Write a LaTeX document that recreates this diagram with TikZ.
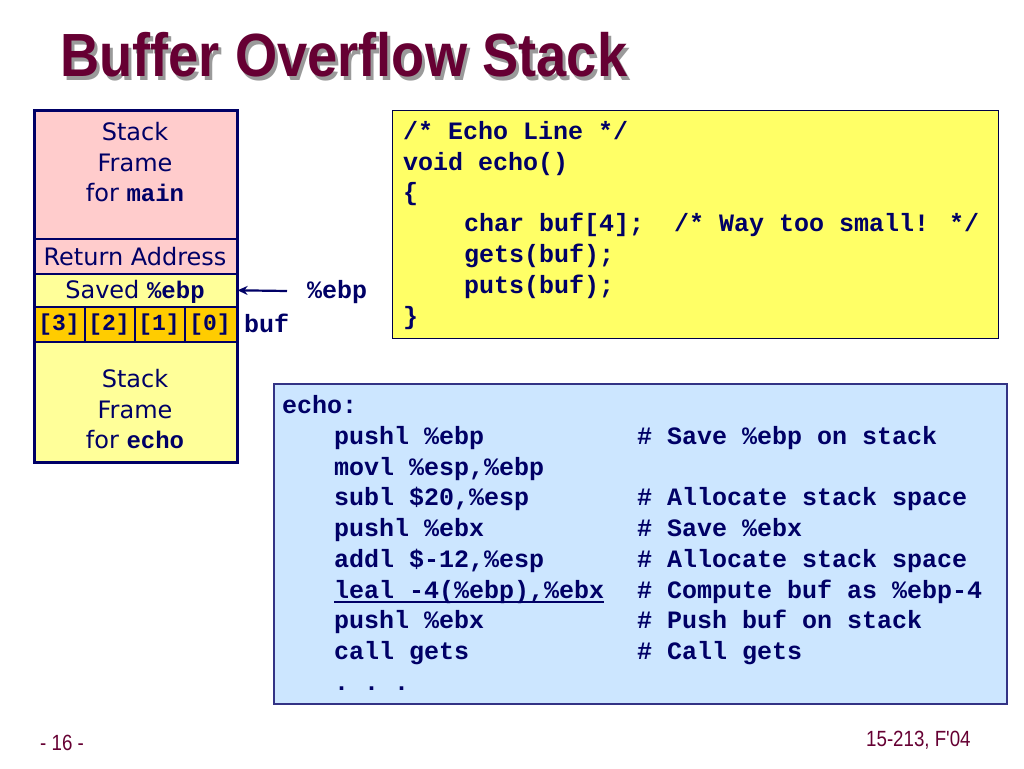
\documentclass[tikz,border=0pt]{standalone}
\usepackage{fontspec}
\setmainfont{DejaVu Sans}
\newfontfamily\monof{Liberation Mono}
\newfontfamily\titlef[FakeStretch=0.89]{Liberation Sans}
\newfontfamily\footf[FakeStretch=0.85]{Liberation Sans}
\usetikzlibrary{arrows.meta}
\definecolor{inknavy}{HTML}{000066}
\definecolor{titlered}{HTML}{660033}
\definecolor{shadowgray}{HTML}{9A9A9A}
\definecolor{pinkfill}{HTML}{FFCCCC}
\definecolor{yellowfill}{HTML}{FFFF99}
\definecolor{bufFill}{HTML}{FFCC00}
\definecolor{codeyellow}{HTML}{FFFF66}
\definecolor{asmblue}{HTML}{CCE6FF}
\tikzset{
  x=1pt, y=-1pt,
  cell/.style={draw=inknavy, line width=1.6pt, anchor=north west, inner sep=0pt, minimum width=#1},
  lbl/.style={anchor=base, inner sep=0pt, text=inknavy, font=\fontsize{24}{28}\selectfont},
  buflbl/.style={anchor=base, inner sep=0pt, text=inknavy, font=\monof\bfseries\fontsize{23}{28}\selectfont},
  mono/.style={anchor=base west, inner sep=0pt, text=inknavy, font=\monof\bfseries\fontsize{25}{30}\selectfont},
  monolbl/.style={anchor=base west, inner sep=0pt, text=inknavy, font=\monof\bfseries\fontsize{25}{28}\selectfont},
  titletext/.style={anchor=base west, inner sep=0pt, font=\titlef\bfseries\fontsize{61}{70}\selectfont},
  foot/.style={anchor=base west, inner sep=0pt, text=titlered, font=\footf\fontsize{22}{24}\selectfont},
}
\begin{document}
\begin{tikzpicture}
\path[fill=white] (0,0) rectangle (1024,768);
% title
\node[titletext, text=shadowgray] (titleshadow) at (63,80) {Buffer Overflow Stack};
\node[titletext, text=titlered] (title) at (60,77) {Buffer Overflow Stack};
% stack
\node[cell=202pt, fill=pinkfill, minimum height=128pt] (mainf) at (34,110) {};
\node[cell=202pt, fill=pinkfill, minimum height=35pt] (ret) at (34,238) {};
\node[cell=202pt, fill=yellowfill, minimum height=33pt] (sebp) at (34,273) {};
\node[cell=50pt, fill=bufFill, minimum height=35pt] (b3) at (34,306) {};
\node[cell=50pt, fill=bufFill, minimum height=35pt] (b2) at (84,306) {};
\node[cell=50pt, fill=bufFill, minimum height=35pt] (b1) at (134,306) {};
\node[cell=52pt, fill=bufFill, minimum height=35pt] (b0) at (184,306) {};
\node[cell=202pt, fill=yellowfill, minimum height=120pt] (echof) at (34,341) {};
\draw[inknavy, line width=3pt] (mainf.north west) rectangle (echof.south east);
\node[lbl] (m1) at (135,140) {Stack};
\node[lbl] (m2) at (135,171) {Frame};
\node[lbl] (m3) at (135,201) {for {\monof\bfseries main}};
\node[lbl] (retl) at (135,265) {Return Address};
\node[lbl] (sebpl) at (135,298) {Saved {\monof\bfseries\%ebp}};
\node[buflbl] (b3l) at (59,330) {[3]};
\node[buflbl] (b2l) at (109,330) {[2]};
\node[buflbl] (b1l) at (159,330) {[1]};
\node[buflbl] (b0l) at (210,330) {[0]};
\node[lbl] (e1) at (135,387) {Stack};
\node[lbl] (e2) at (135,418) {Frame};
\node[lbl] (e3) at (135,448) {for {\monof\bfseries echo}};
% labels and arrow
\node[monolbl] (ebpl) at (307,298) {\%ebp};
\node[monolbl] (bufl) at (244,332) {buf};
\coordinate (arrstart) at (287,291);
\draw[inknavy, line width=2.2pt, -{Stealth[length=10pt,width=9pt]}] (arrstart) -- (sebp.east);
% C code box
\node[draw=inknavy!70!black, line width=1.2pt, fill=codeyellow, anchor=north west, inner sep=0pt, minimum width=606pt, minimum height=228pt] (cbox) at (392,110) {};
\node[mono] (c1) at (403,139) {/* Echo Line */};
\node[mono] (c2) at (403,170) {void echo()};
\node[mono] (c3) at (403,200) {\{};
\node[mono] (c4) at (464,231) {char buf[4];\ \ /* Way too small! */};
\node[mono] (c5) at (464,262) {gets(buf);};
\node[mono] (c6) at (464,293) {puts(buf);};
\node[mono] (c7) at (403,324) {\}};
% assembly box
\node[draw=inknavy!80, line width=1.6pt, fill=asmblue, anchor=north west, inner sep=0pt, minimum width=733pt, minimum height=320pt] (abox) at (273,383) {};
\node[mono] (a0) at (282,413) {echo:};
\node[mono] (a1) at (334,444) {pushl \%ebp};
\node[mono] (a1c) at (637,444) {\# Save \%ebp on stack};
\node[mono] (a2) at (334,475) {movl \%esp,\%ebp};
\node[mono] (a3) at (334,505) {subl \$20,\%esp};
\node[mono] (a3c) at (637,505) {\# Allocate stack space};
\node[mono] (a4) at (334,536) {pushl \%ebx};
\node[mono] (a4c) at (637,536) {\# Save \%ebx};
\node[mono] (a5) at (334,567) {addl \$-12,\%esp};
\node[mono] (a5c) at (637,567) {\# Allocate stack space};
\node[mono] (a6) at (334,598) {leal -4(\%ebp),\%ebx};
\node[mono] (a6c) at (637,598) {\# Compute buf as \%ebp-4};
\node[mono] (a7) at (334,628) {pushl \%ebx};
\node[mono] (a7c) at (637,628) {\# Push buf on stack};
\node[mono] (a8) at (334,659) {call gets};
\node[mono] (a8c) at (637,659) {\# Call gets};
\node[mono] (a9) at (334,690) {.\ .\ .};
\draw[inknavy, line width=1.2pt] ([yshift=-4pt]a6.base west) -- ([yshift=-4pt]a6.base east);
% footer
\node[foot] (pagenum) at (40,750) {- 16 -};
\node[foot] (course) at (866,746) {15-213, F'04};
\end{tikzpicture}
\end{document}
